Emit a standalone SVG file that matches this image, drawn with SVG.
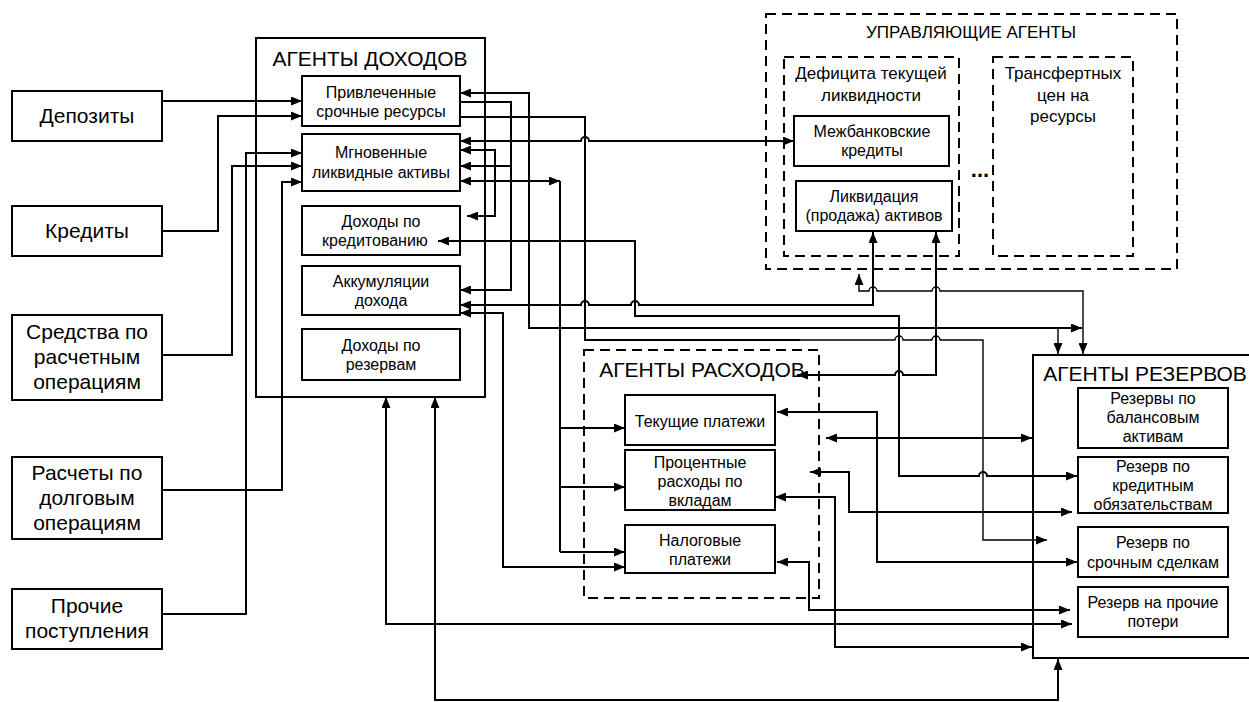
<svg xmlns="http://www.w3.org/2000/svg" width="1249" height="702" viewBox="0 0 1249 702">
<style>
.box{fill:#fff;stroke:#000;stroke-width:2}
.frame{fill:none;stroke:#000;stroke-width:2}
.dash{fill:none;stroke:#000;stroke-width:2;stroke-dasharray:10 6}
.c{fill:none;stroke:#000;stroke-width:2}
.thin{fill:none;stroke:#000;stroke-width:1.4}
.ae{marker-end:url(#ah)}
.ab{marker-start:url(#ah);marker-end:url(#ah)}
text{font-family:"Liberation Sans",Arial,sans-serif;text-anchor:middle;fill:#000}
.big{font-size:21px}
.mid{font-size:17px}
.sm{font-size:16px}
</style>
<defs>
<marker id="ah" viewBox="0 0 11 9" refX="11" refY="4.5" markerWidth="11" markerHeight="9" markerUnits="userSpaceOnUse" orient="auto-start-reverse"><path d="M0,0 L11,4.5 L0,9 z" fill="#000"/></marker>
</defs>
<rect width="1249" height="702" fill="#fff"/>

<g id="src-deposits"><rect class="box" x="12" y="91" width="150" height="50"/><text class="big" x="87" y="123">Депозиты</text></g>
<g id="src-credits"><rect class="box" x="12" y="206" width="150" height="50"/><text class="big" x="87" y="238">Кредиты</text></g>
<g id="src-settlement"><rect class="box" x="12" y="315" width="150" height="85"/><text class="big" x="87" y="339">Средства по</text><text class="big" x="87" y="364">расчетным</text><text class="big" x="87" y="389">операциям</text></g>
<g id="src-debt"><rect class="box" x="12" y="457" width="150" height="82"/><text class="big" x="87" y="480">Расчеты по</text><text class="big" x="87" y="505">долговым</text><text class="big" x="87" y="530">операциям</text></g>
<g id="src-other"><rect class="box" x="12" y="589" width="150" height="60"/><text class="big" x="87" y="613">Прочие</text><text class="big" x="87" y="638">поступления</text></g>

<g id="income-agents"><rect class="frame" x="256" y="38" width="229" height="359"/><text class="big" x="370" y="66">АГЕНТЫ ДОХОДОВ</text></g>
<g id="inc-attracted"><rect class="box" x="302" y="76" width="158" height="50"/><text class="sm" x="381" y="98">Привлеченные</text><text class="sm" x="381" y="117">срочные ресурсы</text></g>
<g id="inc-liquid"><rect class="box" x="302" y="134" width="158" height="57"/><text class="sm" x="381" y="158">Мгновенные</text><text class="sm" x="381" y="178">ликвидные активы</text></g>
<g id="inc-credit"><rect class="box" x="302" y="206" width="158" height="49"/><text class="sm" x="381" y="227">Доходы по</text><text class="sm" x="375" y="246">кредитованию</text></g>
<g id="inc-accum"><rect class="box" x="302" y="266" width="158" height="49"/><text class="sm" x="381" y="287">Аккумуляции</text><text class="sm" x="381" y="306">дохода</text></g>
<g id="inc-reserves"><rect class="box" x="302" y="329" width="158" height="51"/><text class="sm" x="381" y="351">Доходы по</text><text class="sm" x="381" y="370">резервам</text></g>

<g id="control-agents"><rect class="dash" x="766" y="14" width="411" height="255"/><text class="mid" x="971" y="38">УПРАВЛЯЮЩИЕ АГЕНТЫ</text></g>
<g id="ctl-deficit"><rect class="dash" x="784" y="57" width="175" height="199"/><text class="mid" x="871" y="79">Дефицита текущей</text><text class="mid" x="871" y="101">ликвидности</text></g>
<g id="ctl-interbank"><rect class="box" x="794" y="116" width="155" height="50"/><text class="sm" x="872" y="137">Межбанковские</text><text class="sm" x="872" y="156">кредиты</text></g>
<g id="ctl-liquidation"><rect class="box" x="796" y="181" width="156" height="50"/><text class="sm" x="874" y="202">Ликвидация</text><text class="sm" x="874" y="221">(продажа) активов</text></g>
<g id="ctl-transfer"><rect class="dash" x="993" y="57" width="140" height="199"/><text class="mid" x="1063" y="79">Трансфертных</text><text class="mid" x="1063" y="101">цен на</text><text class="mid" x="1063" y="122">ресурсы</text></g>
<g id="ctl-more"><text x="980" y="177" style="font-size:22px;font-weight:bold">...</text></g>

<g id="expense-agents"><rect class="dash" x="584" y="350" width="235" height="248"/><text class="big" x="702" y="377">АГЕНТЫ РАСХОДОВ</text></g>
<g id="exp-current"><rect class="box" x="625" y="395" width="150" height="50"/><text class="sm" x="700" y="427">Текущие платежи</text></g>
<g id="exp-interest"><rect class="box" x="625" y="450" width="150" height="60"/><text class="sm" x="700" y="468">Процентные</text><text class="sm" x="700" y="487">расходы по</text><text class="sm" x="700" y="506">вкладам</text></g>
<g id="exp-tax"><rect class="box" x="625" y="525" width="150" height="48"/><text class="sm" x="700" y="546">Налоговые</text><text class="sm" x="700" y="565">платежи</text></g>

<g id="reserve-agents"><rect class="frame" x="1033" y="355" width="230" height="303"/><text class="big" x="1145" y="381">АГЕНТЫ РЕЗЕРВОВ</text></g>
<g id="res-balance"><rect class="box" x="1078" y="388" width="150" height="60"/><text class="sm" x="1153" y="404">Резервы по</text><text class="sm" x="1153" y="423">балансовым</text><text class="sm" x="1153" y="442">активам</text></g>
<g id="res-credit"><rect class="box" x="1078" y="457" width="150" height="56"/><text class="sm" x="1153" y="472">Резерв по</text><text class="sm" x="1153" y="491">кредитным</text><text class="sm" x="1153" y="510">обязательствам</text></g>
<g id="res-forward"><rect class="box" x="1078" y="527" width="150" height="50"/><text class="sm" x="1153" y="548">Резерв по</text><text class="sm" x="1153" y="568">срочным сделкам</text></g>
<g id="res-other"><rect class="box" x="1078" y="587" width="150" height="50"/><text class="sm" x="1153" y="608">Резерв на прочие</text><text class="sm" x="1153" y="627">потери</text></g>

<g id="connectors">
<path class="c ae" d="M162,101 H302"/>
<path class="c ae" d="M162,231 H218 V116 H302"/>
<path class="c ae" d="M162,355 H232 V166 H302"/>
<path class="c ae" d="M162,490 H282 V182 H302"/>
<path class="c ae" d="M162,614 H246 V153 H302"/>

<path class="c ab" d="M460,93 H529 V328 H1082"/>
<path class="thin ae" d="M1058,328 V354"/>
<path class="c ae" d="M460,102 H511 V290 H460"/>
<path class="c ae" d="M511,166 H460"/>
<path class="c" d="M460,117 H585 V340 H800"/>
<path class="thin ae" d="M800,340 H895 A4,4 0 0 1 903,340 H932 A4,4 0 0 1 940,340 H983 V540 H1047"/>
<path class="c ab" d="M460,141 H581 A4,4 0 0 1 589,141 H794"/>
<path class="c ab" d="M460,150 H495 V216 H467"/>
<path class="c ab" d="M460,181 H560"/>
<path class="c" d="M560,181 V552"/>
<path class="c ae" d="M560,428 H625"/>
<path class="c ae" d="M560,487 H625"/>
<path class="c ae" d="M560,552 H625"/>
<path class="c ab" d="M438,241 H635 V316 H899 V476 H979 A4,4 0 0 1 987,476 H1077"/>
<path class="c ab" d="M460,305 H581 A4,4 0 0 1 589,305 H631 A4,4 0 0 1 639,305 H873 V232"/>
<path class="c ab" d="M460,313 H503 V567 H625"/>
<path class="c ab" d="M386,397 V624 H1072"/>
<path class="c ab" d="M435,397 V700 H1058 V659"/>
<path class="thin ab" d="M859,274 V291 H869 A4,4 0 0 1 877,291 H932 A4,4 0 0 1 940,291 H1083 V354"/>
<path class="c ab" d="M936,232 V375 H903 A4,4 0 0 0 895,375 H797"/>
<path class="c ab" d="M777,412 H877 V562 H1077"/>
<path class="c ab" d="M826,438 H1032"/>
<path class="c ab" d="M810,472 H849 V512 H1072"/>
<path class="c ab" d="M775,497 H835 V647 H1032"/>
<path class="c ab" d="M777,562 H809 V610 H1070"/>
</g>
</svg>
